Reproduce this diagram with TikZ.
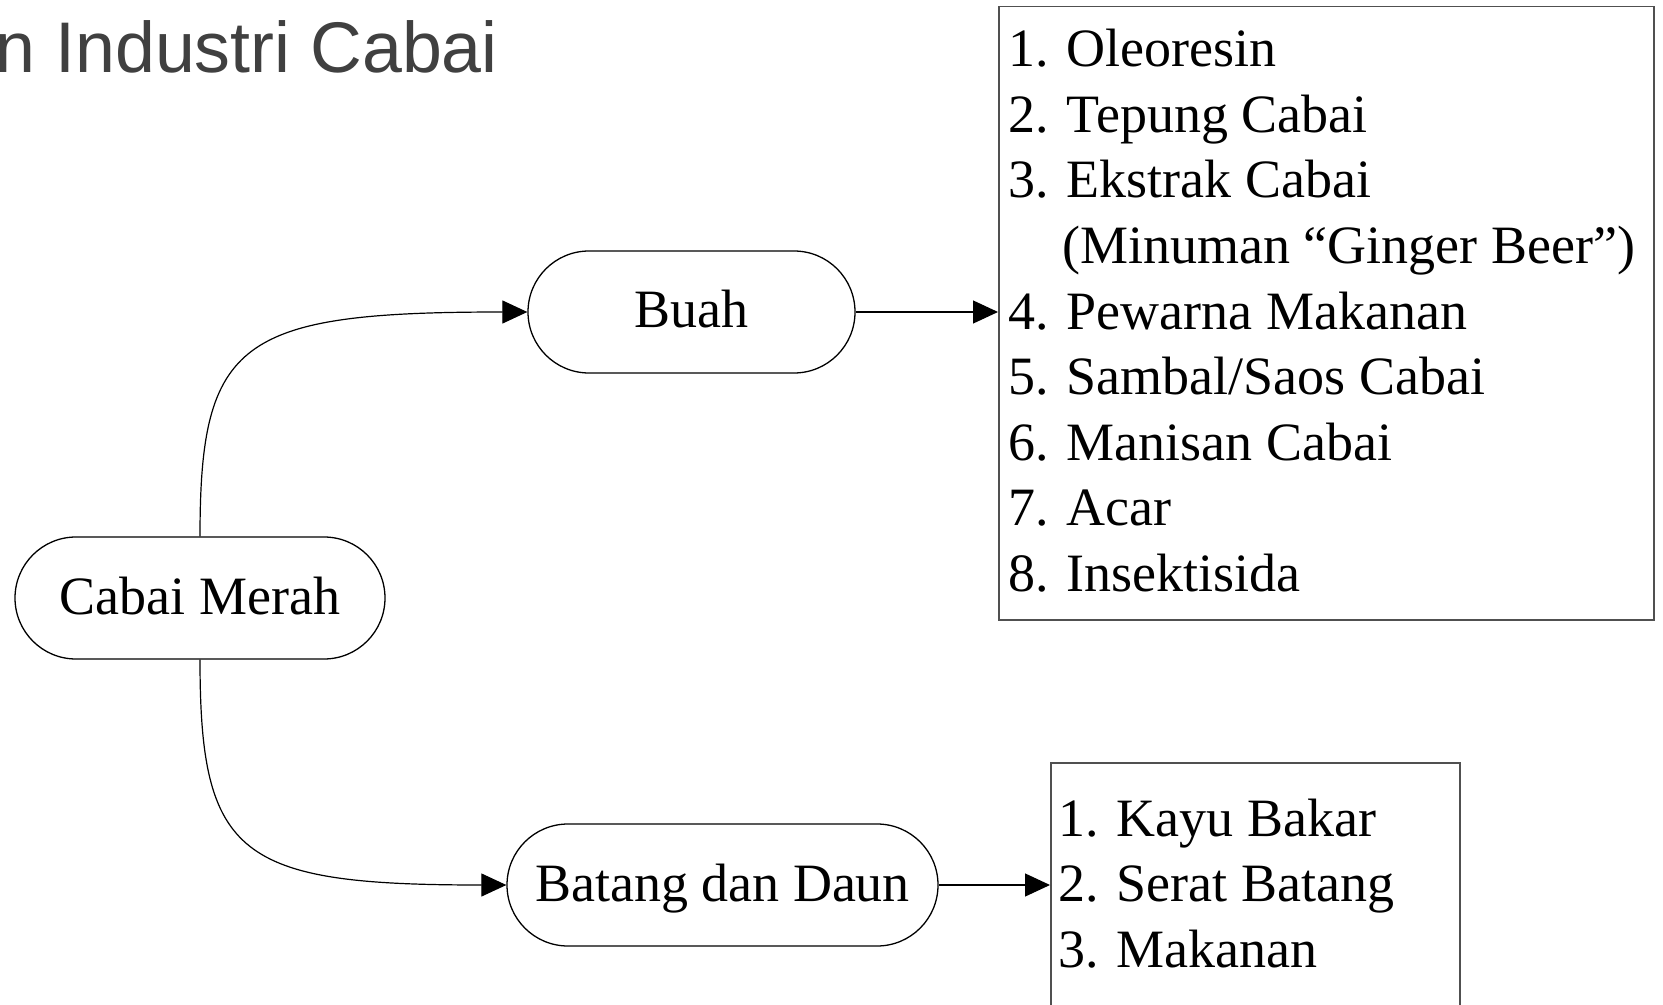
\documentclass[tikz,border=0pt]{standalone}
\usepackage{fontspec}
\setmainfont{Liberation Serif}
\newfontfamily\titlefont{Liberation Sans}
\usetikzlibrary{shapes.misc,arrows.meta}
\definecolor{titlegray}{HTML}{404040}
\definecolor{boxgray}{HTML}{505050}
\begin{document}
\begin{tikzpicture}[x=0.5pt,y=-0.5pt,
  every node/.style={font=\fontsize{27pt}{32.75pt}\selectfont},
  pill/.style={draw=black, line width=0.65pt, rounded rectangle, minimum height=61pt, inner sep=0pt, text height=16pt, text depth=0pt},
  listbox/.style={draw=boxgray, line width=0.75pt, rectangle, inner sep=0pt, anchor=north west},
  item/.style={anchor=base west, inner sep=0pt},
  conn/.style={line width=0.6pt, -{Triangle[length=12.5pt,width=11.5pt]}}]
\clip (0,0) rectangle (1663,1005);
\fill[white] (0,0) rectangle (1663,1005);

\node[anchor=base west, inner sep=0pt, font=\titlefont\fontsize{35.85pt}{40pt}\selectfont, text=titlegray] (title) at (-4.7,73) {n Industri Cabai};

\node[pill, minimum width=185pt] (cm) at (200,598) {Cabai Merah};
\node[pill, minimum width=163.5pt] (buah) at (691.5,312) {Buah};
\node[pill, minimum width=215.5pt] (batang) at (722.5,885) {Batang dan Daun};

\node[listbox, minimum width=327.5pt, minimum height=306.5pt] (bigbox) at (998,6) {};
\node[listbox, minimum width=204.5pt, minimum height=150pt] (smallbox) at (1050,762) {};

\node[item] (b1) at (1008,67) {1. Oleoresin};
\node[item] (b2) at (1008,132.5) {2. Tepung Cabai};
\node[item] (b3) at (1008,198) {3. Ekstrak Cabai};
\node[item] (b4) at (1062,263.5) {(Minuman “Ginger Beer”)};
\node[item] (b5) at (1008,329) {4. Pewarna Makanan};
\node[item] (b6) at (1008,394.5) {5. Sambal/Saos Cabai};
\node[item] (b7) at (1008,460) {6. Manisan Cabai};
\node[item] (b8) at (1008,525.5) {7. Acar};
\node[item] (b9) at (1008,591) {8. Insektisida};

\node[item] (s1) at (1058,836) {1. Kayu Bakar};
\node[item] (s2) at (1058,901.5) {2. Serat Batang};
\node[item] (s3) at (1058,967) {3. Makanan};

\coordinate (c1) at (cm.north|-buah.west);
\coordinate (c2) at (cm.south|-batang.west);
\draw[conn] (cm.north) .. controls ([yshift=-14pt]c1) and ([xshift=19.5pt]c1) .. (buah.west);
\draw[conn] (cm.south) .. controls ([yshift=14pt]c2) and ([xshift=19.5pt]c2) .. (batang.west);
\draw[conn] (buah.east) -- (buah.east-|bigbox.west);
\draw[conn] (batang.east) -- (batang.east-|smallbox.west);
\end{tikzpicture}
\end{document}
